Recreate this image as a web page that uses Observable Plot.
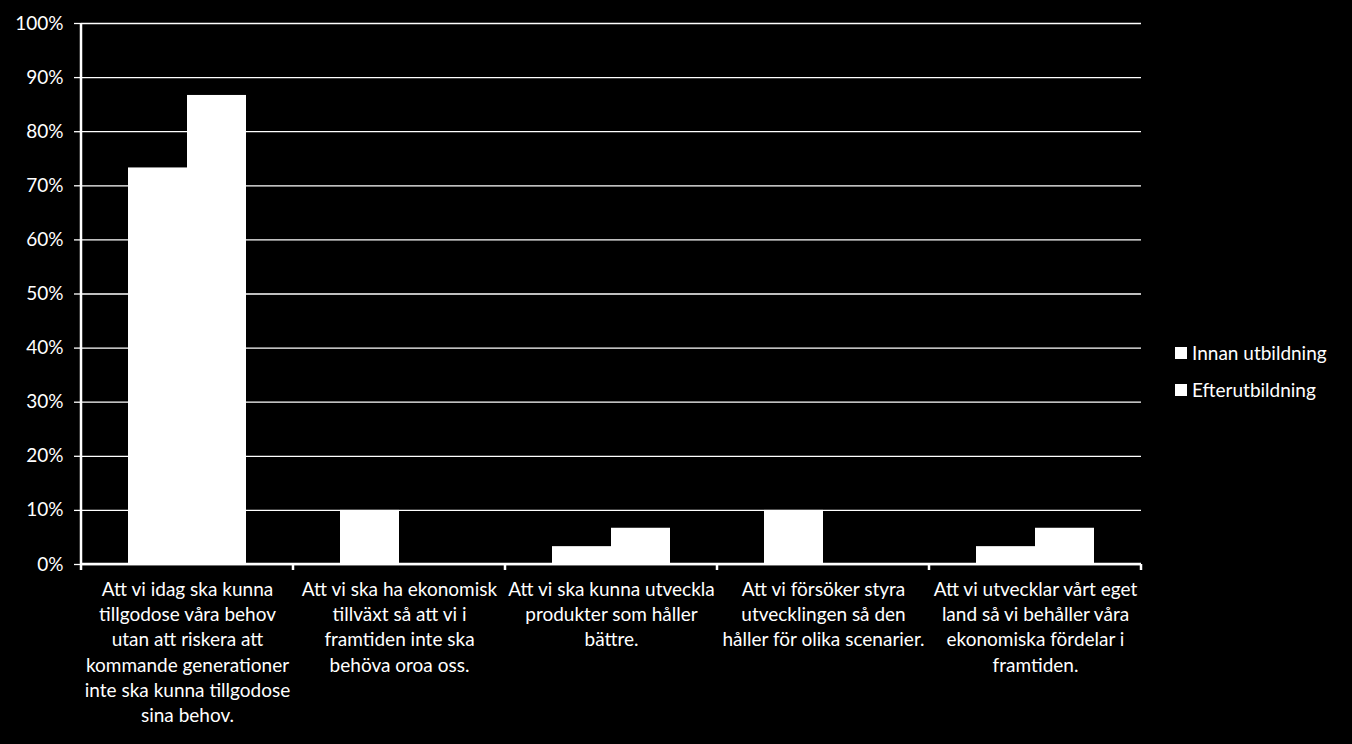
<!DOCTYPE html>
<html>
<head>
<meta charset="utf-8">
<script src="https://cdn.jsdelivr.net/npm/d3@7"></script>
<script src="https://cdn.jsdelivr.net/npm/@observablehq/plot@0.6"></script>
<style>
  html, body { margin: 0; padding: 0; background: #000; }
  #wrap { position: relative; width: 1352px; height: 744px; background: #000; overflow: hidden; }
  #legend { position: absolute; left: 1175px; top: 334px; font-family: Lato, "Open Sans", sans-serif; font-size: 19px; color: #fff; }
  #legend .item { display: flex; align-items: center; height: 37px; }
  #legend .sw { width: 12px; height: 12px; background: #fff; margin-right: 5px; }
</style>
</head>
<body>
<div id="wrap"><div id="legend"></div></div>
<script>
const categories = [
  "Att vi idag ska kunna\ntillgodose våra behov\nutan att riskera att\nkommande generationer\ninte ska kunna tillgodose\nsina behov.",
  "Att vi ska ha ekonomisk\ntillväxt så att vi i\nframtiden inte ska\nbehöva oroa oss.",
  "Att vi ska kunna utveckla\nprodukter som håller\nbättre.",
  "Att vi försöker styra\nutvecklingen så den\nhåller för olika scenarier.",
  "Att vi utvecklar vårt eget\nland så vi behåller våra\nekonomiska fördelar i\nframtiden."
];
const seriesNames = ["Innan utbildning", "Efterutbildning"];
const innan = [73.3, 10, 3.3, 10, 3.3];
const efter = [86.7, 0, 6.7, 0, 6.7];
const yTicks = [0, 10, 20, 30, 40, 50, 60, 70, 80, 90, 100];

const data = categories.flatMap((c, i) => [
  {cat: c, series: seriesNames[0], value: innan[i]},
  {cat: c, series: seriesNames[1], value: efter[i]}
]);

const font = "Lato, 'Open Sans', sans-serif";

const chart = Plot.plot({
  width: 1352,
  height: 744,
  marginLeft: 80,
  marginRight: 211,
  marginTop: 23,
  marginBottom: 180,
  style: {background: "#000", color: "#fff", fontFamily: font, fontSize: "19px", overflow: "visible"},
  fx: {domain: categories, padding: 0, label: null},
  x: {domain: seriesNames, paddingInner: 0, paddingOuter: 0.767, axis: null},
  y: {domain: [0, 100], label: null},
  marks: [
    Plot.ruleY(yTicks, {stroke: "#fff", strokeWidth: 1.3, strokeOpacity: 1}),
    Plot.barY(data, {fx: "cat", x: "series", y: "value", fill: "#fff"}),
    Plot.axisY({ticks: yTicks, tickFormat: d => d + "%", tickSize: 7, tickPadding: 11, stroke: "#fff", strokeWidth: 1.3, fill: "#fff", fontSize: 19, label: null}),
    Plot.axisFx({anchor: "bottom", tickSize: 0, tickPadding: 14, fill: "#fff", fontSize: 19, lineHeight: 1.32, label: null})
  ]
});

document.getElementById("wrap").prepend(chart);

// axis lines and category boundary ticks, positioned from Plot's own scales
const fx = chart.scale("fx");
const ys = chart.scale("y");
const y0 = ys.apply(0), y100 = ys.apply(100);
const svg = d3.select(chart.tagName.toLowerCase() === "svg" ? chart : chart.querySelector("svg"));
const bounds = categories.map(c => fx.apply(c));
bounds.push(fx.apply(categories[categories.length - 1]) + fx.bandwidth);
const g = svg.append("g").attr("stroke", "#fff").attr("stroke-width", 2.5);
g.append("line").attr("x1", bounds[0]).attr("x2", bounds[0]).attr("y1", y100).attr("y2", y0);
g.append("line").attr("x1", bounds[0]).attr("x2", bounds[bounds.length - 1]).attr("y1", y0).attr("y2", y0);
g.selectAll("line.b").data(bounds).join("line").attr("class", "b")
  .attr("x1", d => d).attr("x2", d => d).attr("y1", y0).attr("y2", y0 + 6);

const legend = document.getElementById("legend");
seriesNames.forEach(s => {
  const it = document.createElement("div");
  it.className = "item";
  it.innerHTML = '<div class="sw"></div><span></span>';
  it.querySelector("span").textContent = s;
  legend.appendChild(it);
});
</script>
</body>
</html>
